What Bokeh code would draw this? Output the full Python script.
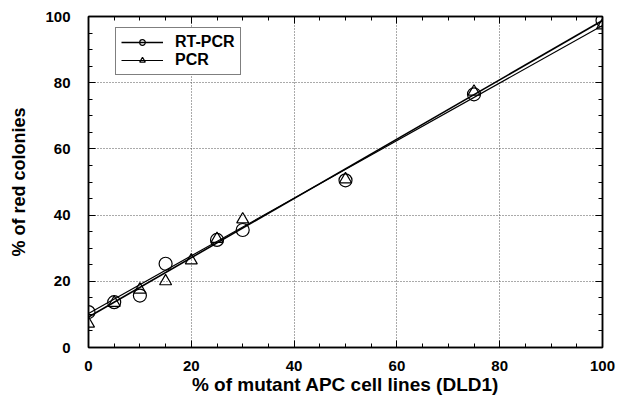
from bokeh.plotting import figure
from bokeh.models import (LinearAxis, SingleIntervalTicker, Legend, LegendItem,
                          Range1d, CustomJSTickFormatter, Grid)
from bokeh.embed import file_html
from bokeh.resources import INLINE

# --- data ---
rt_x = [0, 5, 10, 15, 25, 30, 50, 75, 100]
rt_pcr = [10.7, 13.7, 15.7, 25.3, 32.5, 35.5, 50.5, 76.5, 98.8]
pcr_x = [0, 5, 10, 15, 20, 25, 30, 50, 75, 100]
pcr = [7.2, 13.5, 17.5, 20.0, 26.3, 32.8, 38.7, 50.8, 77.3, 97.3]
fit_x = [0, 100]
rt_fit = [9.2, 98.8]
pcr_fit = [10.3, 97.3]

FONT = "Liberation Sans"

p = figure(width=617, height=398, output_backend="svg", toolbar_location=None,
           x_range=Range1d(0, 100), y_range=Range1d(0, 100),
           min_border_left=88, min_border_right=15, min_border_top=16,
           min_border_bottom=51, x_axis_type=None, y_axis_type=None)

p.outline_line_color = "black"
p.outline_line_width = 1.5
p.background_fill_color = "white"
p.border_fill_color = "white"


def make_axis(labels=True):
    ax = LinearAxis(ticker=SingleIntervalTicker(interval=20, num_minor_ticks=4))
    ax.axis_line_color = "black"
    ax.axis_line_width = 1.5
    ax.major_tick_in = 7
    ax.major_tick_out = 0
    ax.minor_tick_in = 4
    ax.minor_tick_out = 0
    ax.major_tick_line_color = "black"
    ax.minor_tick_line_color = "black"
    if labels:
        ax.major_label_text_font = FONT
        ax.major_label_text_font_style = "bold"
        ax.major_label_text_font_size = "15px"
        ax.major_label_text_color = "black"
        ax.axis_label_text_font = FONT
        ax.axis_label_text_font_style = "bold"
        ax.axis_label_text_font_size = "18px"
        ax.axis_label_text_color = "black"
    else:
        ax.formatter = CustomJSTickFormatter(code="return ''")
        ax.major_label_text_font_size = "0px"
        ax.major_label_standoff = 0
    return ax


xax = make_axis()
xax.axis_label = "% of mutant APC cell lines (DLD1)"
xax.axis_label_text_font_size = "19px"
xax.major_label_standoff = 13
xax.axis_label_standoff = 0
p.add_layout(xax, "below")

yax = make_axis()
yax.axis_label = "% of red colonies"
yax.major_label_standoff = 18
yax.axis_label_standoff = 13
p.add_layout(yax, "left")

p.add_layout(make_axis(False), "above")
p.add_layout(make_axis(False), "right")

# grid
for dim in (0, 1):
    g = Grid(dimension=dim, ticker=SingleIntervalTicker(interval=20))
    g.grid_line_color = "#555555"
    g.grid_line_dash = "1 2"
    g.grid_line_width = 1
    p.add_layout(g)

# fitted lines
l_rt = p.line(fit_x, rt_fit, line_color="black", line_width=1.6)
l_pcr = p.line(fit_x, pcr_fit, line_color="black", line_width=1.2)

# markers
s_rt = p.scatter(rt_x, rt_pcr, marker="circle", size=13, fill_color=None,
                 line_color="black", line_width=1.2)
s_pcr = p.scatter(pcr_x, pcr, marker="triangle", size=12, fill_color=None,
                  line_color="black", line_width=1.2)

legend = Legend(items=[LegendItem(label="RT-PCR", renderers=[l_rt, s_rt]),
                       LegendItem(label="PCR", renderers=[l_pcr, s_pcr])],
                location=(27, 272))
legend.border_line_color = "black"
legend.border_line_width = 1.2
legend.background_fill_alpha = 1
legend.glyph_width = 42
legend.glyph_height = 14
legend.label_height = 14
legend.spacing = 0
legend.padding = 5
legend.margin = 0
legend.label_standoff = 12
legend.label_text_font = FONT
legend.label_text_font_style = "bold"
legend.label_text_font_size = "16px"
legend.label_text_line_height = 0.9
legend.label_text_color = "black"
p.add_layout(legend, "center")

open("out.html", "w").write(file_html(p, INLINE))
